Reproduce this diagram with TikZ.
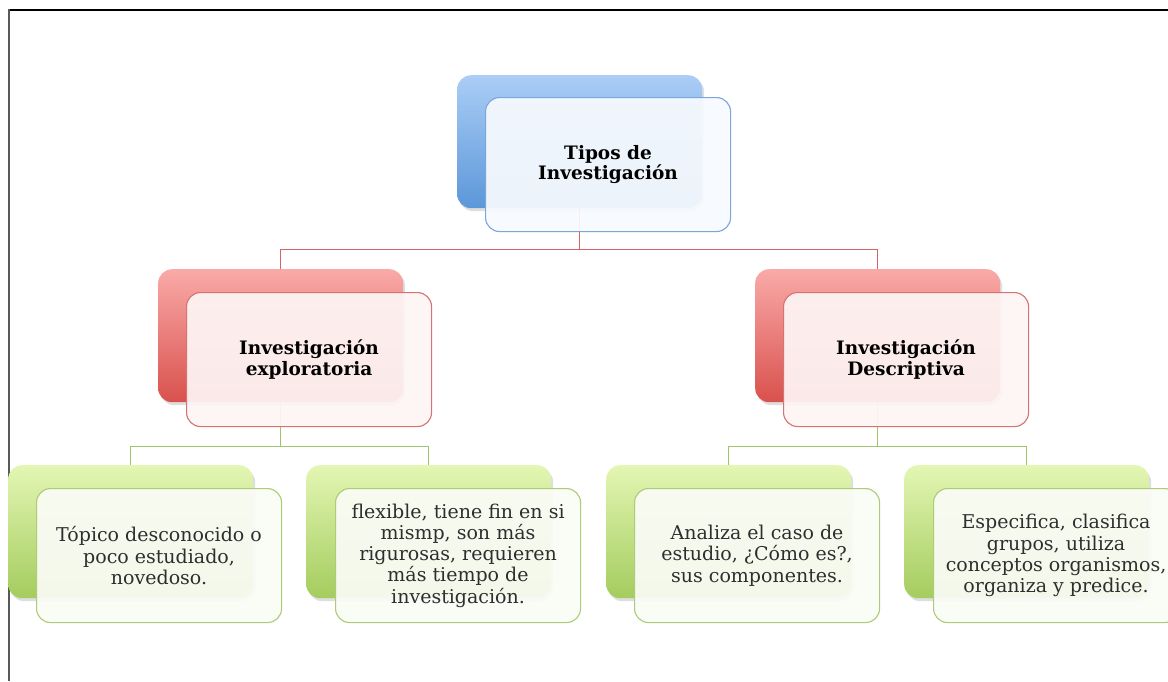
\documentclass[tikz,border=0pt]{standalone}
\usepackage{fontspec}
\setmainfont{DejaVu Serif}
\usetikzlibrary{shadows}
\definecolor{blueT}{HTML}{ABCDF6}
\definecolor{blueB}{HTML}{5B97D9}
\definecolor{blueL}{HTML}{7BA6DA}
\definecolor{blueF}{HTML}{F7FAFE}
\definecolor{redT}{HTML}{F9AAA8}
\definecolor{redB}{HTML}{D9514D}
\definecolor{redL}{HTML}{D47372}
\definecolor{redF}{HTML}{FEF5F5}
\definecolor{greenT}{HTML}{E3F6B3}
\definecolor{greenB}{HTML}{A4CC5E}
\definecolor{greenL}{HTML}{AECB78}
\definecolor{greenF}{HTML}{FAFCF6}
\definecolor{redline}{HTML}{DB6262}
\definecolor{greenline}{HTML}{A3C46A}
\definecolor{bodytext}{HTML}{2E2E2E}
\begin{document}
\begin{tikzpicture}[x=1pt,y=-1pt,
  backbox/.style={rounded corners=14pt, minimum width=245pt, minimum height=133pt,
    inner sep=0pt, anchor=north west,
    drop shadow={shadow xshift=2pt, shadow yshift=-3pt, opacity=0.18, fill=black!70}},
  frontbox/.style={rounded corners=14pt, minimum width=245pt, minimum height=134pt,
    inner sep=0pt, anchor=north west, line width=1.1pt, fill opacity=0.93, text opacity=1,
    align=center},
  blueback/.style={backbox, top color=blueT, bottom color=blueB},
  redback/.style={backbox, top color=redT, bottom color=redB},
  greenback/.style={backbox, top color=greenT, bottom color=greenB},
  headfont/.style={font=\fontsize{18.5}{20.5}\selectfont\bfseries},
  bluefront/.style={frontbox, draw=blueL, fill=blueF, headfont},
  redfront/.style={frontbox, draw=redL, fill=redF, headfont},
  greenfront/.style={frontbox, draw=greenL, fill=greenF, text=bodytext,
    font=\fontsize{19}{21.3}\selectfont},
  rline/.style={draw=redline, line width=1.5pt},
  gline/.style={draw=greenline, line width=1.5pt},
  frame/.style={line width=2pt}
]
\useasboundingbox (0,0) rectangle (1168,681);
\fill[white] (0,0) rectangle (1168,681);
\draw[frame, black] (8,9.5) -- (1168,9.5);
\draw[frame, black!65] (8.5,9) -- (8.5,681);

% back boxes
\node[blueback] (topB) at (457,75) {};
\node[redback] (leftB) at (158,269) {};
\node[redback] (rightB) at (755,269) {};
\node[greenback] (b1B) at (8,465) {};
\node[greenback] (b2B) at (306,465) {};
\node[greenback] (b3B) at (606,465) {};
\node[greenback] (b4B) at (904,465) {};

% connectors
\draw[rline] (topB.south) -- ++(0,41) coordinate (j1);
\draw[rline] (leftB.north) |- (j1) -| (rightB.north);
\draw[gline] (leftB.south) -- ++(0,44) coordinate (j2);
\draw[gline] (b1B.north) |- (j2) -| (b2B.north);
\draw[gline] (rightB.south) -- ++(0,44) coordinate (j3);
\draw[gline] (b3B.north) |- (j3) -| (b4B.north);

% front boxes
\node[bluefront] (top) at (485,97) {Tipos de\\Investigación};
\node[redfront] (left) at (186,292) {Investigación\\exploratoria};
\node[redfront] (right) at (783,292) {Investigación\\Descriptiva};
\node[greenfront] (b1) at (36,488) {Tópico desconocido o\\poco estudiado,\\novedoso.};
\node[greenfront] (b2) at (335,488) {flexible, tiene fin en si\\mismp, son más\\rigurosas, requieren\\más tiempo de\\investigación.};
\node[greenfront] (b3) at (634,488) {Analiza el caso de\\estudio, ¿Cómo es?,\\sus componentes.};
\node[greenfront] (b4) at (933,488) {Especifica, clasifica\\grupos, utiliza\\conceptos organismos,\\organiza y predice.};
\end{tikzpicture}
\end{document}
